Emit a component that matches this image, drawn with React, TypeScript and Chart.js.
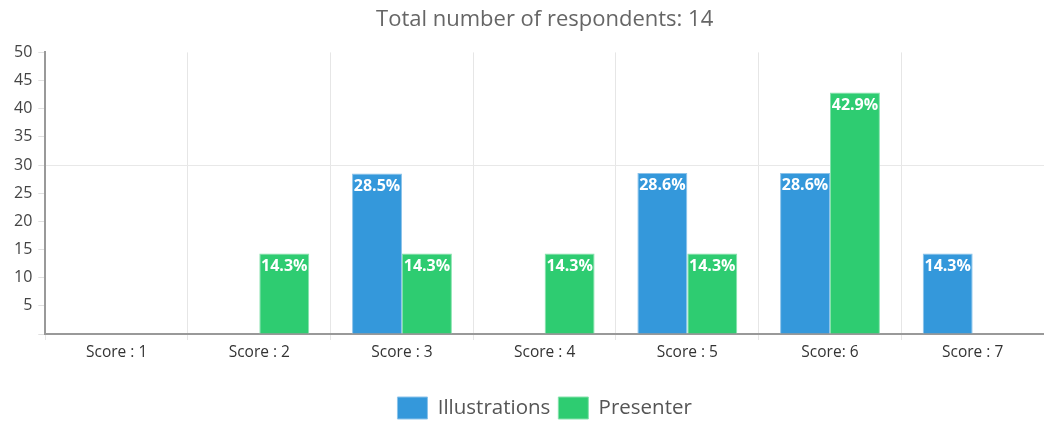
import React, { useEffect, useRef } from "react";
import { Chart, registerables } from "chart.js";

Chart.register(...registerables);

const categories = ["Score : 1", "Score : 2", "Score : 3", "Score : 4", "Score : 5", "Score: 6", "Score : 7"];
const illustrations = [0, 0, 28.5, 0, 28.6, 28.6, 14.3];
const presenter = [0, 14.3, 14.3, 14.3, 14.3, 42.9, 0];
const seriesNames = ["Illustrations", "Presenter"];
const titleText = "Total number of respondents: 14";

const FONT = "'Open Sans', 'Noto Sans', sans-serif";

const labelPlugin = {
  id: "barLabels",
  afterDatasetsDraw(chart: any) {
    const ctx = chart.ctx;
    ctx.save();
    ctx.font = `bold 16px ${FONT}`;
    ctx.fillStyle = "#ffffff";
    ctx.textAlign = "center";
    ctx.textBaseline = "middle";
    chart.data.datasets.forEach((ds: any, di: number) => {
      const meta = chart.getDatasetMeta(di);
      if (meta.hidden) return;
      meta.data.forEach((bar: any, i: number) => {
        const v = ds.data[i];
        if (!v) return;
        ctx.fillText(v.toFixed(1) + "%", bar.x, bar.y + 13);
      });
    });
    ctx.restore();
  },
};

export default function App() {
  const ref = useRef<HTMLCanvasElement | null>(null);
  useEffect(() => {
    document.body.style.margin = "0";
    const chart = new Chart(ref.current!, {
      type: "bar",
      data: {
        labels: categories,
        datasets: [
          {
            label: seriesNames[0],
            data: illustrations,
            backgroundColor: "#3498db",
            borderColor: "#8cc3ea",
            borderWidth: 1,
            categoryPercentage: 0.7,
            barPercentage: 1.0,
          },
          {
            label: seriesNames[1],
            data: presenter,
            backgroundColor: "#2ecc71",
            borderColor: "#86e2ac",
            borderWidth: 1,
            categoryPercentage: 0.7,
            barPercentage: 1.0,
          },
        ],
      },
      options: {
        animation: false,
        responsive: true,
        maintainAspectRatio: false,
        layout: { padding: { left: 8, right: 0, top: 0, bottom: -6 } },
        plugins: {
          title: {
            display: true,
            fullSize: false,
            text: titleText,
            color: "#666666",
            font: { family: FONT, size: 22, weight: "normal" },
            padding: { top: 7, bottom: 19 },
          },
          legend: {
            position: "bottom",
            fullSize: false,
            labels: {
              color: "#555555",
              font: { family: FONT, size: 20.5 },
              boxWidth: 30,
              boxHeight: 22,
              padding: 8,
            },
          },
          tooltip: { enabled: false },
        },
        scales: {
          x: {
            grid: {
              offset: true,
              color: "#e6e6e6",
              tickColor: "#e6e6e6",
              tickLength: 6,
            },
            border: { color: "#999999", width: 2 },
            ticks: {
              color: "#333333",
              font: { family: FONT, size: 15.5 },
              padding: 3,
            },
            afterFit: (scale: any) => {
              scale.height = 55;
            },
          },
          y: {
            min: 0,
            max: 50,
            grid: {
              color: (c: any) => (c.tick && c.tick.value === 30 ? "#e8e8e8" : "rgba(0,0,0,0)"),
              tickColor: "#e0e0e0",
              tickLength: 7,
              lineWidth: 1,
            },
            border: { color: "#999999", width: 2 },
            ticks: {
              stepSize: 5,
              color: "#444444",
              font: { family: FONT, size: 16 },
              padding: 6,
              callback: (v: any) => (v === 0 ? "" : String(v)),
            },
          },
        },
      },
      plugins: [labelPlugin],
    });
    return () => chart.destroy();
  }, []);
  return (
    <div style={{ position: "relative", width: 1044, height: 423 }}>
      <canvas ref={ref} />
    </div>
  );
}
